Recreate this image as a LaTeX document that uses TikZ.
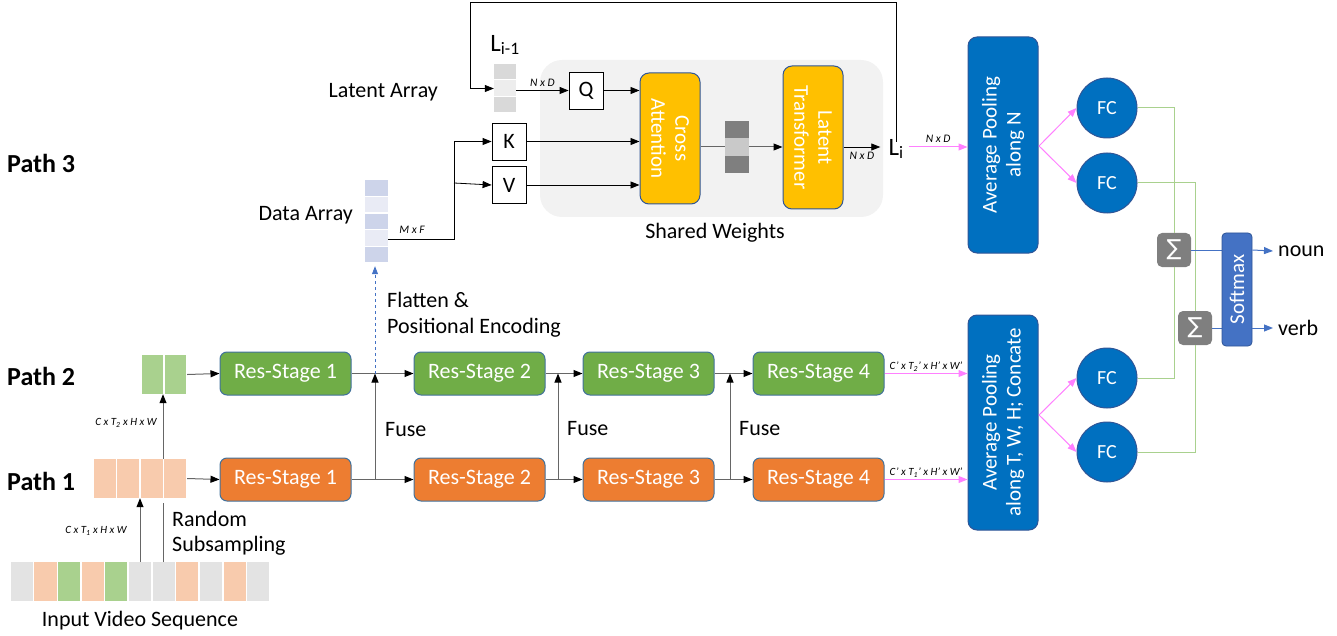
\documentclass[tikz,border=0pt]{standalone}
\usepackage{fontspec}
\setmainfont{Carlito}
\newfontfamily\dejavu{DejaVu Sans}
\usetikzlibrary{arrows.meta}
\definecolor{gbox}{HTML}{70AD47}
\definecolor{obox}{HTML}{ED7D31}
\definecolor{bord}{HTML}{41719C}
\definecolor{lgreen}{HTML}{A9D18E}
\definecolor{lorange}{HTML}{F8CBAD}
\definecolor{lgray}{HTML}{E3E3E3}
\definecolor{pool}{HTML}{0070C0}
\definecolor{poolb}{HTML}{2F5597}
\definecolor{gold}{HTML}{FFC000}
\definecolor{pinkc}{HTML}{FF80FF}
\definecolor{smax}{HTML}{4472C4}
\definecolor{sig}{HTML}{7F7F7F}
\definecolor{darrA}{HTML}{CDD4EA}
\definecolor{darrB}{HTML}{E9EBF5}
\definecolor{shared}{HTML}{F2F2F2}
\definecolor{latA}{HTML}{D9D9D9}
\definecolor{latB}{HTML}{EDEDED}
\definecolor{vecA}{HTML}{7F7F7F}
\definecolor{vecB}{HTML}{C9C9C9}
\newcommand{\fs}[1]{\fontsize{#1}{#1}\selectfont}
\begin{document}
\begin{tikzpicture}[x=1pt,y=-1pt,
  every node/.style={inner sep=0pt},
  lbl/.style={font=\fs{22}},
  small/.style={font=\fs{11.5}\itshape},
  stagebox/.style={draw=bord, line width=1pt, rounded corners=7pt, text=white, font=\fs{22}, minimum width=131, minimum height=43},
  gstage/.style={stagebox, fill=gbox},
  ostage/.style={stagebox, fill=obox},
  arr/.style={draw=black!60, line width=1pt, -{Triangle[length=9pt,width=7pt,color=black]}},
  barr/.style={draw=black, line width=0.8pt, -{Triangle[length=9pt,width=7pt,color=black]}},
  bline/.style={draw=black, line width=0.8pt},
  pinkarr/.style={draw=pinkc, line width=1pt, -{Triangle[length=9pt,width=7pt,color=pinkc]}},
  greenline/.style={draw=lgreen, line width=1pt},
  blueline/.style={draw=smax, line width=1pt},
  bluearr/.style={draw=smax, line width=1pt, -{Triangle[length=9pt,width=7pt,color=smax]}},
  poolbox/.style={draw=poolb, line width=1pt, fill=pool, rounded corners=9pt, text=white, font=\fs{21}, align=center, rotate=90, minimum height=70},
  fc/.style={circle, draw=poolb, line width=1pt, fill=pool, text=white, font=\fs{20}, minimum size=60},
  sigbox/.style={fill=sig, rounded corners=5pt, text=white, font=\dejavu\fs{22}, minimum size=34},
  qkv/.style={draw=black, line width=0.8pt, fill=white, font=\fs{22}, minimum width=34, minimum height=37},
  goldbox/.style={draw=poolb, line width=1pt, fill=gold, rounded corners=9pt, text=white, font=\fs{21}, align=center, rotate=-90, minimum height=60}
]
\useasboundingbox (0,0) rectangle (1337,636);

% ---------- path labels
\node[font=\bfseries\fs{26}, anchor=west] (p3) at (7,163) {Path 3};
\node[font=\bfseries\fs{26}, anchor=west] (p2) at (7,376) {Path 2};
\node[font=\bfseries\fs{26}, anchor=west] (p1) at (7,481) {Path 1};

% ---------- input video sequence
\node[minimum width=260, minimum height=39] (inp) at (140,581.5) {};
\foreach \c [count=\i from 0] in {lgray,lorange,lgreen,lorange,lgreen,lgray,lgray,lorange,lgray,lorange,lgray}
  \fill[\c] (10.8+\i*23.64,562) rectangle ++(22.1,39);
\node[lbl] (inptxt) at (140,621) {Input Video Sequence};

% path 1 array
\node[minimum width=94, minimum height=39] (p1arr) at (140,478.5) {};
\foreach \i in {0,1,2,3} \fill[lorange] (93.8+\i*23.5,459) rectangle ++(22,39);
% path 2 array
\node[minimum width=46, minimum height=39] (p2arr) at (164,374.5) {};
\foreach \i in {0,1} \fill[lgreen] (141.8+\i*23,355) rectangle ++(21.6,39);

\draw[arr] (inp.north) -- (p1arr.south);
\coordinate (rsA) at (163,562);
\coordinate (rsB) at (163,503);
\draw[draw=black!60, line width=1pt] (rsA) -- (rsB);
\coordinate (p12) at (163,459);
\draw[arr] (p12) -- (p12 |- p2arr.south);
\node[font=\fs{11}\itshape] (t1lab) at (96,531) {C x T\textsubscript{1} x H x W};
\node[font=\fs{11}\itshape] (t2lab) at (126,423) {C x T\textsubscript{2} x H x W};
\node[lbl, anchor=west, align=left] (rsub) at (172,533) {Random\\[3pt]Subsampling};

% ---------- res stages
\node[gstage] (rs1g) at (285.5,373.5) {Res-Stage 1};
\node[gstage] (rs2g) at (479.5,373.5) {Res-Stage 2};
\node[gstage] (rs3g) at (648.5,373.5) {Res-Stage 3};
\node[gstage] (rs4g) at (818.5,373.5) {Res-Stage 4};
\node[ostage] (rs1o) at (285.5,479.5) {Res-Stage 1};
\node[ostage] (rs2o) at (479.5,479.5) {Res-Stage 2};
\node[ostage] (rs3o) at (648.5,479.5) {Res-Stage 3};
\node[ostage] (rs4o) at (818.5,479.5) {Res-Stage 4};

\draw[arr] (p2arr.east) -- (rs1g.west);
\draw[arr] (p1arr.east) -- (rs1o.west);
\draw[arr] (rs1g.east) -- (rs2g.west);
\draw[arr] (rs2g.east) -- (rs3g.west);
\draw[arr] (rs3g.east) -- (rs4g.west);
\draw[arr] (rs1o.east) -- (rs2o.west);
\draw[arr] (rs2o.east) -- (rs3o.west);
\draw[arr] (rs3o.east) -- (rs4o.west);
\coordinate (j1o) at (375,479.5); \coordinate (j1g) at (375,373.5);
\coordinate (j2o) at (558,479.5); \coordinate (j2g) at (558,373.5);
\coordinate (j3o) at (730,479.5); \coordinate (j3g) at (730,373.5);
\draw[arr] (j1o) -- (j1g);
\draw[arr] (j2o) -- (j2g);
\draw[arr] (j3o) -- (j3g);
\node[lbl, anchor=west] (fuse1) at (385,430) {Fuse};
\node[lbl, anchor=west] (fuse2) at (567,429) {Fuse};
\node[lbl, anchor=west] (fuse3) at (739,429) {Fuse};

% ---------- data array
\node[minimum width=23, minimum height=83] (darr) at (376.5,221.5) {};
\foreach \c [count=\i from 0] in {darrA,darrB,darrA,darrB,darrA}
  \fill[\c] (365,180.5+\i*16.6) rectangle ++(23,15.4);
\node[lbl, anchor=east] (datatxt) at (353,215) {Data Array};
\draw[draw=smax, line width=0.8pt, dashed, -{Triangle[length=8pt,width=6pt,color=smax]}, shorten >=3pt] (j1g) -- (j1g |- darr.south);
\node[lbl, anchor=west, align=left] (flat) at (387,315) {Flatten \&\\[4pt]Positional Encoding};

% ---------- shared weights
\node[fill=shared, rounded corners=22pt, minimum width=343, minimum height=157] (shared) at (711.5,138.5) {};
\node[lbl] (sharedtxt) at (715,233) {Shared Weights};

% latent array
\node[minimum width=22, minimum height=49] (lat) at (505,88.5) {};
\foreach \c [count=\i from 0] in {latA,latB,latA}
  \fill[\c] (494,64+\i*16.5) rectangle ++(22,15.3);
\node[font=\fs{25}] (lim1) at (505,45) {L\textsubscript{i-1}};
\node[lbl, anchor=east] (lattxt) at (438,92) {Latent Array};

\node[qkv] (Q) at (586,90.5) {Q};
\node[qkv] (K) at (509,141.5) {K};
\node[qkv] (V) at (509,185) {V};

\node[goldbox, minimum width=131] (ca) at (670,138.5) {Cross\\[3pt]Attention};
\node[goldbox, minimum width=143] (lt) at (813,137.5) {Latent\\[3pt]Transformer};

\draw[barr] (lat.east |- Q.west) -- node[small, above=4pt] {N x D} (Q.west);
\draw[barr] (Q.east) -- (Q.east -| ca.south);
\draw[barr] (K.east) -- (K.east -| ca.south);
\draw[barr] (V.east) -- (V.east -| ca.south);

\coordinate (dout) at (388,239);
\coordinate (kv) at (454,183);
\draw[bline] (dout) -| (kv);
\node[small] (mxf) at (412,230) {M x F};
\draw[barr] (kv) |- (K.west);
\draw[barr] (kv) -- (V.west);

% middle vector
\node[minimum width=24, minimum height=52] (vec) at (737,147) {};
\draw[draw=black!60, line width=1pt] (ca.north |- vec.west) -- (vec.west);
\foreach \c [count=\i from 0] in {vecA,vecB,vecA}
  \fill[\c] (725,121+\i*17.33) rectangle ++(24,17.4);
\draw[arr] (vec.east) -- (vec.east -| lt.south);

\node[font=\fs{25}] (Li) at (896,149) {L\textsubscript{i}};
\draw[barr] (lt.north |- vec.east) -- node[small, below=5pt] {N x D} ([xshift=-8pt]Li.west |- vec.east);
\coordinate (ftop) at (470,2);
\draw[barr] ([yshift=-3pt]Li.north) |- (ftop) |- (lat.west);

% ---------- pooling
\node[poolbox, minimum width=216] (pool1) at (1003,145) {Average Pooling\\[3pt]along N};
\node[poolbox, minimum width=215] (pool2) at (1003,422.5) {Average Pooling\\[3pt]along T, W, H; Concate};

\draw[pinkarr] ([xshift=5pt]Li.east |- vec.east) -- node[small, above=4pt] {N x D} (pool1.north |- vec.east);
\draw[pinkarr] (rs4g.east) -- node[above=2pt, font=\fs{11}\itshape] {C' x T\textsubscript{2}' x H' x W'} (rs4g.east -| pool2.north);
\draw[pinkarr] (rs4o.east) -- node[above=2pt, font=\fs{11}\itshape] {C' x T\textsubscript{1}' x H' x W'} (rs4o.east -| pool2.north);

\node[fc] (fc1) at (1107,108) {FC};
\node[fc] (fc2) at (1107,183) {FC};
\node[fc] (fc3) at (1107,378) {FC};
\node[fc] (fc4) at (1107,452) {FC};

\coordinate (fk1) at (1039,146);
\coordinate (fk2) at (1039,415);
\draw[pinkarr] (fk1) -- (fc1.west);
\draw[pinkarr] (fk1) -- (fc2.west);
\draw[pinkarr] (fk2) -- (fc3.west);
\draw[pinkarr] (fk2) -- (fc4.west);

\node[sigbox] (sig1) at (1174,250) {∑};
\node[sigbox] (sig2) at (1195,328) {∑};
\draw[greenline] (fc1.east) -| (sig1.north);
\draw[greenline] (sig1.south) |- (fc3.east);
\draw[greenline] (fc2.east) -| (sig2.north);
\draw[greenline] (sig2.south) |- (fc4.east);

\node[lbl, anchor=west] (noun) at (1278,251) {noun};
\node[lbl, anchor=west] (verb) at (1278,328) {verb};
\draw[blueline] (sig1.east) -- (1237,250);
\draw[blueline] (sig2.east) -- (1237,328);
\node[fill=smax, draw=poolb, line width=0.8pt, rounded corners=4pt, text=white, font=\fs{21}, rotate=90, minimum width=113, minimum height=30] (smx) at (1237,289.5) {Softmax};
\draw[bluearr] (smx.south |- sig1.east) -- ([xshift=-5pt]noun.west);
\draw[bluearr] (smx.south |- sig2.east) -- ([xshift=-5pt]verb.west);
\end{tikzpicture}
\end{document}
